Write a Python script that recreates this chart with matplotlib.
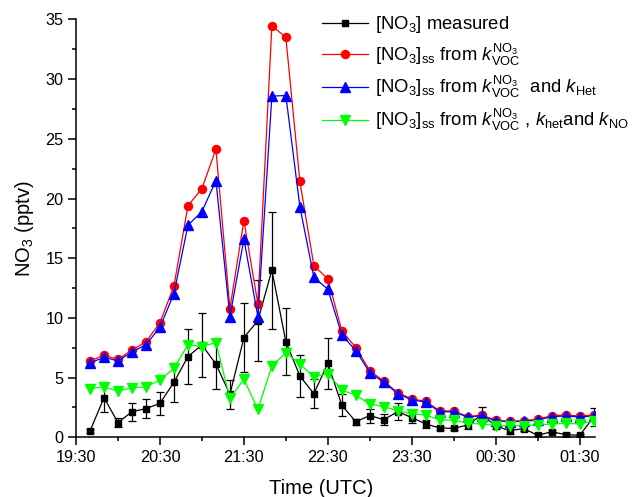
import pandas as pd
import matplotlib
matplotlib.use("Agg")
import matplotlib.pyplot as plt
import matplotlib.dates as mdates

plt.rcParams['font.family'] = ['Liberation Sans', 'DejaVu Sans']
plt.rcParams['mathtext.fontset'] = 'custom'
plt.rcParams['mathtext.rm'] = 'Liberation Sans'
plt.rcParams['mathtext.it'] = 'Liberation Sans:italic'
plt.rcParams['mathtext.bf'] = 'Liberation Sans:bold'

# Sample times (UTC), 10-min steps
times = ["19:40", "19:50", "20:00", "20:10", "20:20", "20:30", "20:40", "20:50",
         "21:00", "21:10", "21:20", "21:30", "21:40", "21:50", "22:00", "22:10",
         "22:20", "22:30", "22:40", "22:50", "23:00", "23:10", "23:20", "23:30",
         "23:40", "23:50", "00:00", "00:10", "00:20", "00:30", "00:40", "00:50",
         "01:00", "01:10", "01:20", "01:30", "01:40"]

# [NO3] measured (pptv) and its uncertainty
measured = [0.53, 3.32, 1.23, 2.15, 2.40, 2.85, 4.61, 6.76, 7.74, 6.14, 3.60, 8.35,
            9.78, 14.0, 8.0, 5.14, 3.65, 6.20, 2.68, 1.31, 1.82, 1.48, 2.15, 1.65,
            1.12, 0.78, 0.75, 1.03, 1.90, 0.95, 0.56, 0.73, 0.17, 0.47, 0.22, 0.17, 1.68]
measured_err = [0.2, 1.16, 0.38, 0.75, 0.8, 0.98, 1.62, 2.33, 2.7, 2.12, 1.24, 2.89,
                3.42, 4.89, 2.79, 1.76, 1.23, 2.15, 0.91, 0.25, 0.59, 0.49, 0.7, 0.42,
                0.31, 0.15, 0.15, 0.3, 0.63, 0.25, 0.3, 0.2, 0.1, 0.15, 0.1, 0.1, 0.75]

# steady-state [NO3] from k_VOC only
ss_voc = [6.40, 6.87, 6.53, 7.32, 7.99, 9.61, 12.68, 19.4, 20.84, 24.14, 10.78, 18.16,
          11.17, 34.48, 33.5, 21.43, 14.39, 13.27, 8.94, 7.51, 5.59, 4.69, 3.74, 3.21,
          3.02, 2.21, 2.21, 1.73, 1.87, 1.42, 1.34, 1.40, 1.51, 1.82, 1.87, 1.79, 1.87]

# steady-state [NO3] from k_VOC and k_Het
ss_voc_het = [6.23, 6.70, 6.40, 7.15, 7.76, 9.22, 12.04, 17.77, 18.91, 21.51, 10.11, 16.6,
              10.11, 28.58, 28.63, 19.33, 13.41, 12.4, 8.58, 7.26, 5.42, 4.61, 3.66, 3.13,
              2.96, 2.12, 2.15, 1.68, 1.82, 1.37, 1.31, 1.34, 1.45, 1.73, 1.79, 1.70, 1.79]

# steady-state [NO3] from k_VOC, k_het and k_NO
ss_voc_het_no = [4.07, 4.24, 3.85, 4.16, 4.22, 4.80, 5.78, 7.76, 7.60, 7.93, 3.27, 4.86,
                 2.35, 5.98, 7.09, 6.14, 5.08, 5.31, 3.97, 3.52, 2.79, 2.57, 2.23, 1.96,
                 1.87, 1.45, 1.45, 1.17, 1.12, 0.98, 0.98, 0.98, 1.03, 1.12, 1.17, 1.12, 1.37]


def to_datetime(labels):
    out = []
    for t in labels:
        day = "2000-01-02" if int(t[:2]) < 12 else "2000-01-01"
        out.append(pd.Timestamp(f"{day} {t}"))
    return out


x = to_datetime(times)

fig = plt.figure(figsize=(6.32, 4.97), dpi=100)
ax = fig.add_axes([0.1203, 0.1201, 0.8212, 0.8407])

eb = ax.errorbar(x, measured, yerr=measured_err, color='black', marker='s', ms=5,
                 lw=0.9, elinewidth=0.9, capsize=3, capthick=0.9, zorder=3)
h1 = eb[0]
h1.set_label('[NO$_3$] measured')
h2, = ax.plot(x, ss_voc, color='#ff0000', marker='o', ms=5.8, lw=0.9,
              label=r'[NO$_3$]$_{\mathrm{ss}}$ from $k^{\mathrm{NO_3}}_{\mathrm{VOC}}$', zorder=4)
h3, = ax.plot(x, ss_voc_het, color='#0000ff', marker='^', ms=6.5, lw=0.9,
              label=r'[NO$_3$]$_{\mathrm{ss}}$ from $k^{\mathrm{NO_3}}_{\mathrm{VOC}}$  and $k_{\mathrm{Het}}$',
              zorder=5)
h4, = ax.plot(x, ss_voc_het_no, color='#00ff00', marker='v', ms=6.5, lw=0.9,
              label=r'[NO$_3$]$_{\mathrm{ss}}$ from $k^{\mathrm{NO_3}}_{\mathrm{VOC}}$ , $k_{\mathrm{het}}$and $k_{\mathrm{NO}}$',
              zorder=6)

ax.set_xlim(pd.Timestamp("2000-01-01 19:30"), pd.Timestamp("2000-01-02 01:41"))
ax.set_ylim(0, 35)

ax.xaxis.set_major_locator(mdates.MinuteLocator(byminute=[30]))
ax.xaxis.set_minor_locator(mdates.MinuteLocator(byminute=[0]))
ax.xaxis.set_major_formatter(mdates.DateFormatter('%H:%M'))
ax.set_yticks(range(0, 36, 5))
ax.set_yticks([2.5 + 5 * k for k in range(7)], minor=True)

for side in ['top', 'right']:
    ax.spines[side].set_visible(False)
for side in ['left', 'bottom']:
    ax.spines[side].set_linewidth(1.1)

ax.tick_params(which='major', direction='out', length=5.5, width=1.1, labelsize=11.7)
ax.tick_params(which='minor', direction='out', length=3, width=1.1)

ax.set_xlabel('Time (UTC)', fontsize=14.5, labelpad=5)
ax.xaxis.set_label_coords(0.472, -0.1)
ax.set_ylabel('NO$_3$ (pptv)', fontsize=14.5, labelpad=7)

handles = [h1, h2, h3, h4]
leg = ax.legend(handles, [h.get_label() for h in handles],
                loc='upper left', bbox_to_anchor=(322 / 632, 1 - 14 / 497),
                bbox_transform=fig.transFigure, frameon=False,
                fontsize=13.3, handlelength=2.5, handletextpad=0.35, labelspacing=0.33,
                borderaxespad=0, borderpad=0)

fig.savefig('out.png', dpi=100)
